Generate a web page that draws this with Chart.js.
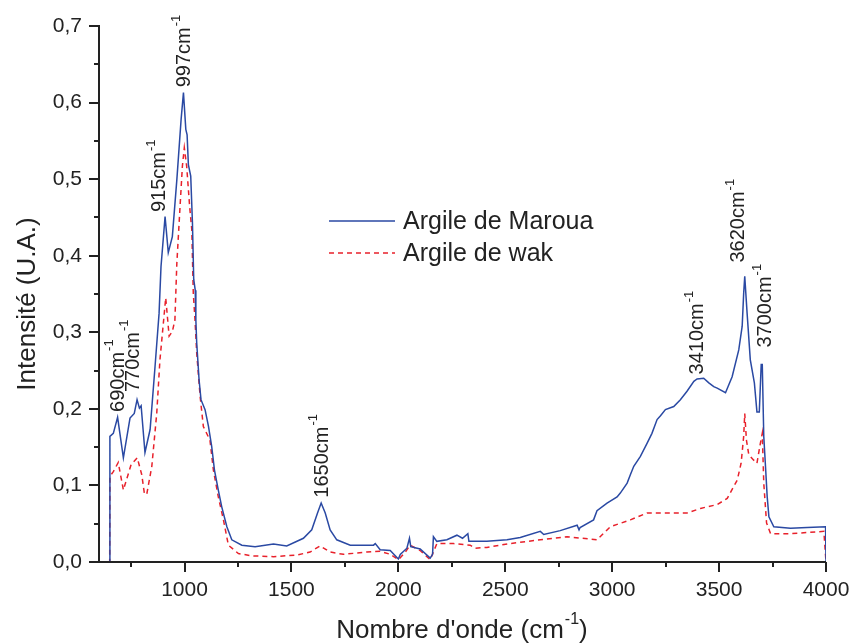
<!DOCTYPE html>
<html>
<head>
<meta charset="utf-8">
<script src="https://cdn.jsdelivr.net/npm/chart.js@4"></script>
<style>
  html, body { margin: 0; padding: 0; background: #fff; }
  canvas { display: block; }
</style>
</head>
<body>
<canvas id="irChart" width="850" height="644"></canvas>
<script>
// Argile de Maroua (solid blue)
const marouaX = [600, 650, 651, 667, 687, 714, 745, 765, 778, 789, 797, 815, 839, 862, 881,
  890, 909, 924, 943, 964, 984, 995, 1006, 1012, 1018, 1029, 1037, 1043, 1050, 1053,
  1057, 1068, 1077, 1096, 1112, 1127, 1140, 1158, 1174, 1198, 1221, 1268, 1330, 1416, 1478,
  1556, 1595, 1622, 1639, 1658, 1681, 1712, 1775, 1884, 1892, 1915, 1962, 2000, 2009, 2040,
  2052, 2058, 2102, 2149, 2160, 2164, 2180, 2227, 2274, 2300, 2325, 2330, 2414, 2508, 2570,
  2664, 2680, 2757, 2836, 2845, 2850, 2913, 2929, 2976, 3023, 3038, 3070, 3085, 3101, 3132,
  3163, 3186, 3210, 3226, 3249, 3288, 3319, 3350, 3382, 3397, 3428, 3452, 3475, 3491, 3530,
  3561, 3592, 3608, 3615, 3620, 3631, 3646, 3665, 3677, 3688, 3697, 3702, 3709, 3717, 3725,
  3733, 3756, 3834, 3912, 3998, 4000];
const marouaY = [0, 0, 0.164, 0.168, 0.189, 0.136, 0.188, 0.194, 0.212, 0.201, 0.204, 0.143, 0.173, 0.255, 0.325,
  0.386, 0.451, 0.404, 0.425, 0.499, 0.578, 0.613, 0.565, 0.558, 0.519, 0.504, 0.443, 0.369, 0.355, 0.316,
  0.286, 0.238, 0.212, 0.199, 0.177, 0.151, 0.120, 0.094, 0.072, 0.046, 0.029, 0.022, 0.020, 0.0235, 0.021,
  0.031, 0.042, 0.064, 0.077, 0.064, 0.042, 0.029, 0.022, 0.022, 0.024, 0.016, 0.015, 0.004, 0.010, 0.018,
  0.031, 0.020, 0.017, 0.005, 0.010, 0.033, 0.027, 0.029, 0.035, 0.031, 0.037, 0.027, 0.027, 0.029, 0.032,
  0.040, 0.036, 0.041, 0.048, 0.042, 0.045, 0.055, 0.067, 0.077, 0.085, 0.090, 0.103, 0.114, 0.125, 0.138,
  0.155, 0.168, 0.186, 0.191, 0.199, 0.203, 0.212, 0.223, 0.236, 0.239, 0.240, 0.234, 0.229, 0.227, 0.221,
  0.242, 0.277, 0.308, 0.351, 0.373, 0.325, 0.264, 0.234, 0.196, 0.196, 0.258, 0.258, 0.164, 0.125, 0.085,
  0.059, 0.046, 0.044, 0.045, 0.046, 0];

// Argile de wak (dashed red)
const wakX = [600, 650, 651, 667, 690, 714, 750, 779, 800, 812, 823, 847, 870, 885, 904,
  912, 928, 943, 955, 964, 979, 990, 999, 1010, 1024, 1034, 1041, 1049, 1057, 1073,
  1088, 1119, 1135, 1158, 1182, 1205, 1252, 1315, 1416, 1525, 1587, 1634, 1681, 1743, 1853,
  1915, 1962, 2000, 2030, 2055, 2102, 2149, 2180, 2258, 2336, 2360, 2414, 2520, 2664, 2789,
  2929, 2991, 3085, 3163, 3257, 3350, 3413, 3491, 3538, 3585, 3603, 3615, 3620, 3628, 3639,
  3662, 3677, 3693, 3702, 3709, 3722, 3741, 3834, 3990, 4000];
const wakY = [0, 0, 0.112, 0.118, 0.130, 0.094, 0.127, 0.136, 0.114, 0.090, 0.088, 0.125, 0.194, 0.264, 0.321,
  0.345, 0.295, 0.301, 0.316, 0.390, 0.464, 0.517, 0.541, 0.517, 0.464, 0.434, 0.351, 0.316, 0.273, 0.216,
  0.177, 0.159, 0.120, 0.085, 0.055, 0.022, 0.011, 0.008, 0.007, 0.009, 0.013, 0.021, 0.013, 0.010, 0.013,
  0.014, 0.010, 0.003, 0.012, 0.022, 0.015, 0.003, 0.024, 0.024, 0.022, 0.018, 0.019, 0.024, 0.029, 0.033,
  0.029, 0.046, 0.055, 0.064, 0.064, 0.064, 0.070, 0.075, 0.083, 0.107, 0.129, 0.164, 0.194, 0.159, 0.140,
  0.133, 0.129, 0.155, 0.168, 0.103, 0.051, 0.037, 0.037, 0.040, 0];

const seriesNames = ['Argile de Maroua', 'Argile de wak'];
const xTicks = [1000, 1500, 2000, 2500, 3000, 3500, 4000];
const yTicks = [0, 0.1, 0.2, 0.3, 0.4, 0.5, 0.6, 0.7];

// peak labels, anchored at (wavenumber, intensity) where the rotated text starts
const peakNames = ['690', '770', '915', '997', '1650', '3410', '3620', '3700'];
const peakAnchorX = [689, 759, 885, 1002, 1644, 3399, 3591, 3717];
const peakAnchorY = [0.196, 0.222, 0.457, 0.62, 0.084, 0.245, 0.391, 0.28];

const FONT = "'Liberation Sans', Arial, sans-serif";
const TXT = '#222';
const BLUE = '#2a49a3';
const RED = '#e8212b';

function pts(xs, ys) {
  return xs.map((v, i) => ({ x: v, y: ys[i] }));
}

// text with a "-1" exponent, drawn from (0,0) going right in current transform
function supText(ctx, base, size, supSize) {
  ctx.font = size + 'px ' + FONT;
  ctx.fillText(base, 0, 0);
  let w = ctx.measureText(base).width;
  ctx.font = supSize + 'px ' + FONT;
  ctx.fillText('-1', w + 1, -size * 0.42);
  return w + 1 + ctx.measureText('-1').width;
}

const extras = {
  id: 'extras',
  afterDatasetsDraw(chart) {
    const { ctx, scales: { x, y } } = chart;
    ctx.save();
    ctx.fillStyle = TXT;
    ctx.textBaseline = 'middle';
    ctx.textAlign = 'left';

    // rotated peak labels
    peakNames.forEach((name, i) => {
      ctx.save();
      ctx.translate(x.getPixelForValue(peakAnchorX[i]), y.getPixelForValue(peakAnchorY[i]));
      ctx.rotate(-Math.PI / 2);
      supText(ctx, name + 'cm', 20, 13);
      ctx.restore();
    });

    // legend
    ctx.lineWidth = 1.6;
    ctx.strokeStyle = BLUE;
    ctx.beginPath(); ctx.moveTo(329, 221); ctx.lineTo(395, 221); ctx.stroke();
    ctx.strokeStyle = RED;
    ctx.setLineDash([5, 4]);
    ctx.beginPath(); ctx.moveTo(329, 253); ctx.lineTo(395, 253); ctx.stroke();
    ctx.setLineDash([]);
    ctx.font = '25px ' + FONT;
    ctx.fillText(seriesNames[0], 403, 222);
    ctx.fillText(seriesNames[1], 403, 254);
    ctx.restore();
  },
  afterDraw(chart) {
    const { ctx, chartArea: a, scales: { x, y } } = chart;
    ctx.save();
    ctx.strokeStyle = TXT;
    ctx.lineWidth = 2;
    ctx.beginPath();
    ctx.moveTo(a.left, a.top - 1);
    ctx.lineTo(a.left, a.bottom);
    ctx.lineTo(a.right, a.bottom);
    ctx.stroke();

    // tick marks, major and minor, outward
    ctx.beginPath();
    for (let v = 750; v <= 4000; v += 250) {
      const px = Math.round(x.getPixelForValue(v));
      const len = v % 500 === 0 ? 10 : 5;
      ctx.moveTo(px, a.bottom);
      ctx.lineTo(px, a.bottom + len);
    }
    for (let k = 0; k <= 14; k++) {
      const py = Math.round(y.getPixelForValue(k * 0.05));
      const len = k % 2 === 0 ? 10 : 5;
      ctx.moveTo(a.left, py);
      ctx.lineTo(a.left - len, py);
    }
    ctx.stroke();

    // axis titles
    ctx.fillStyle = TXT;
    ctx.textBaseline = 'middle';
    ctx.save();
    ctx.translate(28, 304);
    ctx.rotate(-Math.PI / 2);
    ctx.font = '26px ' + FONT;
    ctx.textAlign = 'center';
    ctx.fillText('Intensité (U.A.)', 0, 0);
    ctx.restore();

    const base = "Nombre d'onde (cm";
    ctx.font = '16px ' + FONT;
    const supW = ctx.measureText('-1').width;
    ctx.font = '26px ' + FONT;
    const total = ctx.measureText(base).width + 1 + supW + ctx.measureText(')').width;
    ctx.save();
    ctx.translate(462 - total / 2, 631);
    const w = supText(ctx, base, 26, 16);
    ctx.font = '26px ' + FONT;
    ctx.fillText(')', w, 0);
    ctx.restore();
    ctx.restore();
  }
};

const ctx = document.getElementById('irChart').getContext('2d');
const chart = new Chart(ctx, {
  type: 'line',
  data: {
    datasets: [{
      label: seriesNames[0],
      data: pts(marouaX, marouaY),
      borderColor: BLUE,
      borderWidth: 1.5,
      pointRadius: 0,
      fill: false,
      tension: 0
    }, {
      label: seriesNames[1],
      data: pts(wakX, wakY),
      borderColor: RED,
      borderWidth: 1.5,
      borderDash: [5, 4],
      pointRadius: 0,
      fill: false,
      tension: 0
    }]
  },
  options: {
    responsive: false,
    animation: false,
    devicePixelRatio: 1,
    layout: { padding: { top: 26, right: 24, left: 0, bottom: 0 } },
    plugins: {
      legend: { display: false },
      tooltip: { enabled: false }
    },
    scales: {
      x: {
        type: 'linear',
        min: 600,
        max: 4000,
        grid: { display: false, drawTicks: false },
        border: { display: false },
        afterBuildTicks: s => { s.ticks = xTicks.map(v => ({ value: v })); },
        afterFit: s => { s.height = 82; s.paddingLeft = 0; s.paddingRight = 0; },
        ticks: {
          color: TXT,
          padding: 16,
          maxRotation: 0,
          font: { family: FONT, size: 21 },
          callback: v => String(v)
        }
      },
      y: {
        type: 'linear',
        min: 0,
        max: 0.7,
        grid: { display: false, drawTicks: false },
        border: { display: false },
        afterBuildTicks: s => { s.ticks = yTicks.map(v => ({ value: v })); },
        afterFit: s => { s.width = 99; s.paddingTop = 0; s.paddingBottom = 0; },
        ticks: {
          color: TXT,
          padding: 17,
          font: { family: FONT, size: 21 },
          callback: v => v.toFixed(1).replace('.', ',')
        }
      }
    }
  },
  plugins: [extras]
});
</script>
</body>
</html>
